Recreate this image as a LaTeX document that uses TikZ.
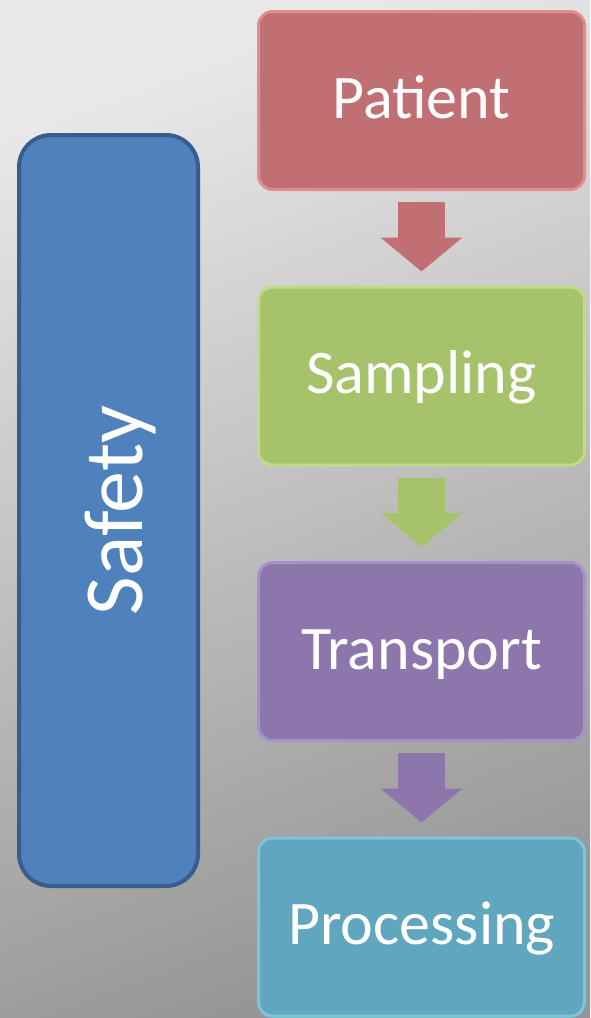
\documentclass[tikz,border=0pt]{standalone}
\usepackage{fontspec}
\setmainfont{Carlito}
\usetikzlibrary{positioning,arrows.meta}

\definecolor{bglight}{RGB}{232,232,232}
\definecolor{bgdark}{RGB}{150,150,150}
\definecolor{safetyblue}{RGB}{79,129,189}
\definecolor{safetyedge}{RGB}{56,93,140}
\definecolor{patientred}{RGB}{192,112,115}
\definecolor{patientedge}{RGB}{226,140,142}
\definecolor{samplinggreen}{RGB}{166,194,106}
\definecolor{samplingedge}{RGB}{192,218,140}
\definecolor{transportviolet}{RGB}{140,118,172}
\definecolor{transportedge}{RGB}{166,146,202}
\definecolor{processingcyan}{RGB}{97,166,191}
\definecolor{processingedge}{RGB}{122,198,220}

\begin{document}
\begin{tikzpicture}
	[x=1pt,y=-1pt,
	stage/.style={rounded corners=14pt,line width=3pt,
		minimum width=326pt,minimum height=178pt,inner sep=0pt,
		text=white,font=\fontsize{62}{74}\selectfont,
		text height=35pt,text depth=0pt},
	flow/.style={line width=47pt,-{Triangle[width=80pt,length=34pt]},
		shorten <=11pt,shorten >=14pt}]
	% page and background
	\useasboundingbox (0,0) rectangle (590,1018);
	\shade[top color=bglight,bottom color=bgdark,shading angle=20]
		(0,0) rectangle (590,1018);
	% the column of stages
	\node[stage,fill=patientred,draw=patientedge] (patient) at (421.5,100.5) {Patient};
	\node[stage,fill=samplinggreen,draw=samplingedge,below=94.5pt of patient] (sampling) {Sampling};
	\node[stage,fill=transportviolet,draw=transportedge,below=94.5pt of sampling] (transport) {Transport};
	\node[stage,fill=processingcyan,draw=processingedge,below=94.5pt of transport] (processing) {Processing};
	% block arrows between the stages
	\draw[flow,patientred] (patient) -- (sampling);
	\draw[flow,samplinggreen] (sampling) -- (transport);
	\draw[flow,transportviolet] (transport) -- (processing);
	% safety bar on the left
	\node[rounded corners=32pt,line width=4pt,fill=safetyblue,draw=safetyedge,
		minimum width=179pt,minimum height=751pt,inner sep=0pt] (safety) at (108.5,510.5) {};
	\node[text=white,font=\fontsize{84}{100}\selectfont,inner sep=0pt,
		text height=67pt,text depth=0pt,rotate=90] (safetylabel) at (safety.center) {Safety};
\end{tikzpicture}
\end{document}
